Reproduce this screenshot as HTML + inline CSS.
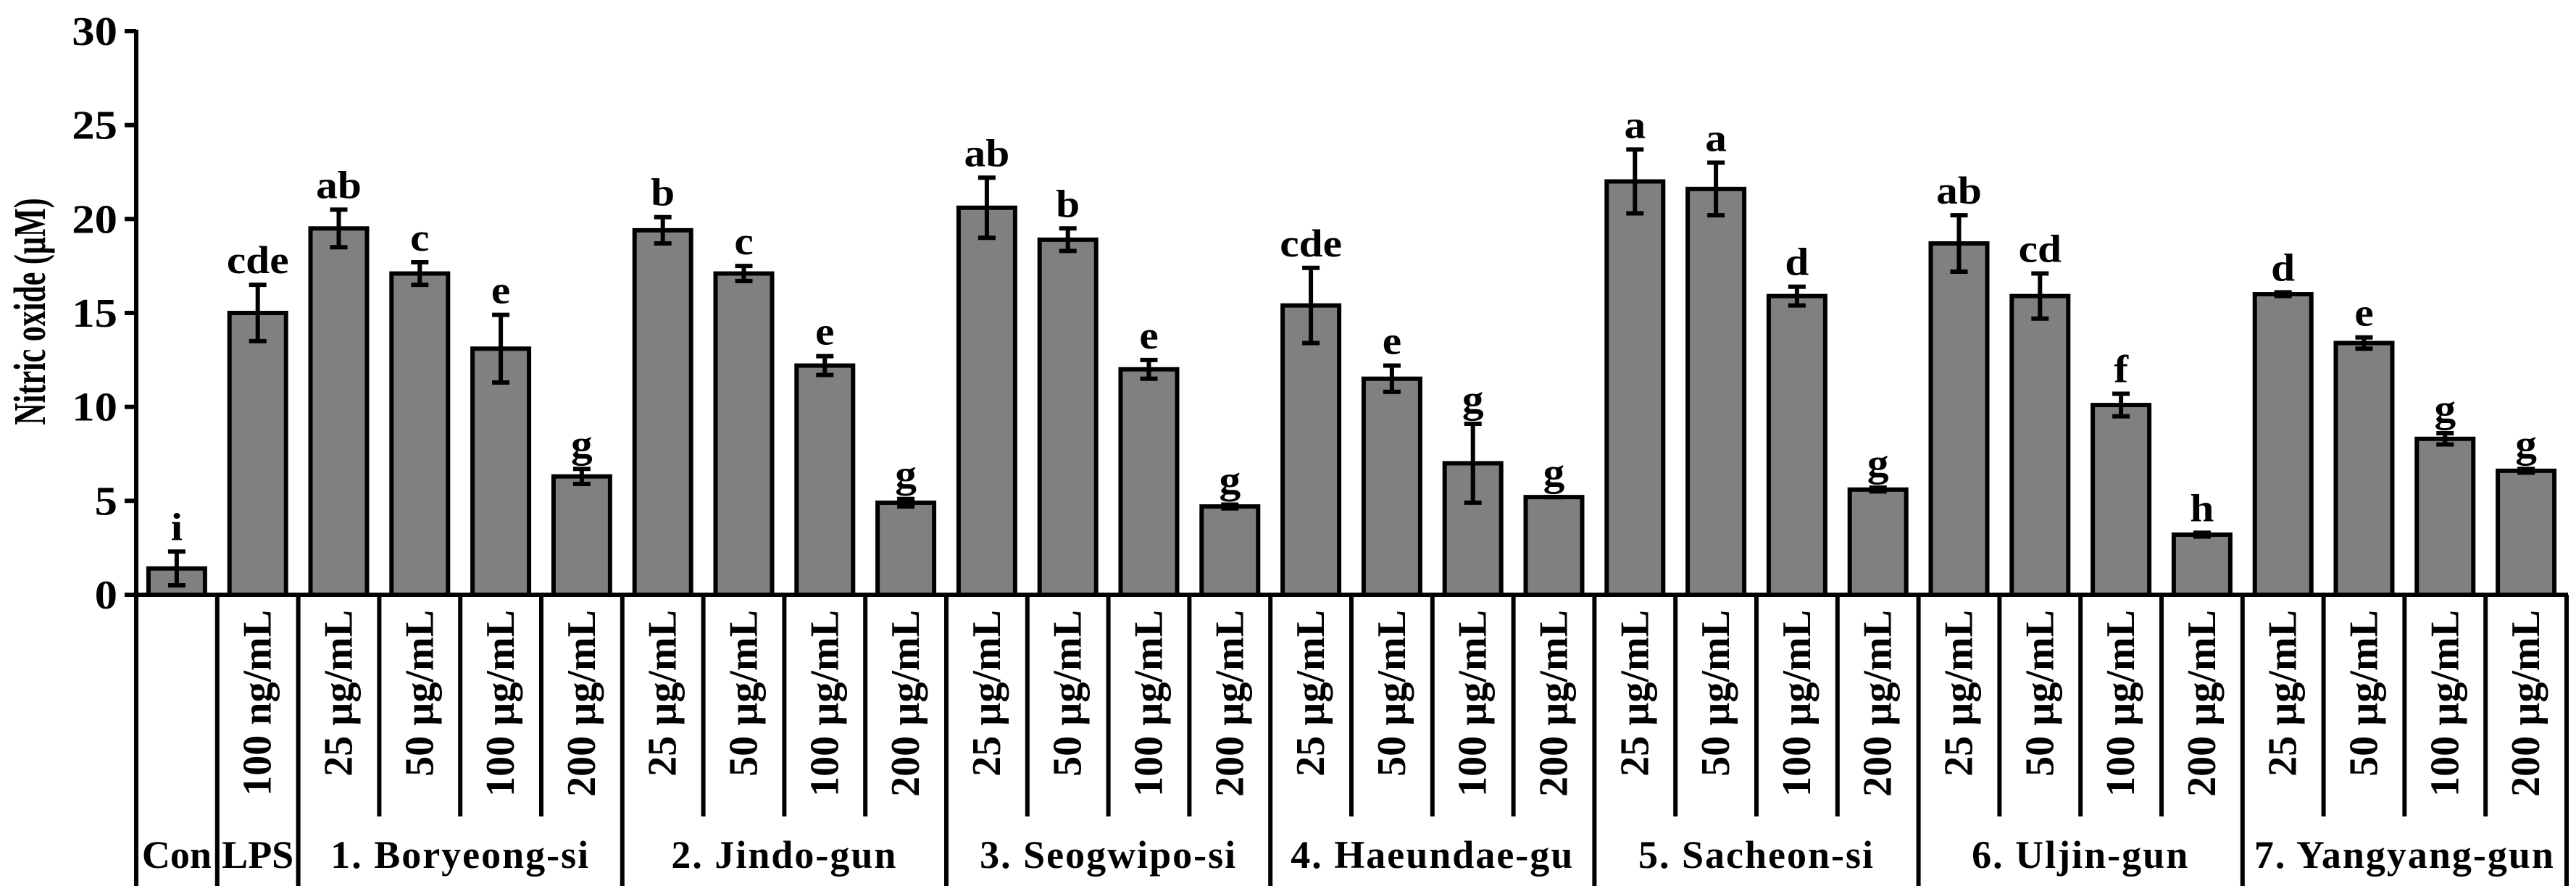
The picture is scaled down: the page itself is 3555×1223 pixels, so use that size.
<!DOCTYPE html>
<html><head><meta charset="utf-8"><style>
html,body{margin:0;padding:0;background:#fff;}
svg{display:block;font-family:"Liberation Serif",serif;font-weight:bold;}
</style></head><body>
<svg id="chart" width="3555" height="1223" viewBox="0 0 3555 1223" xmlns="http://www.w3.org/2000/svg">
<text transform="translate(62,430) rotate(-90) scale(1,1.5)" text-anchor="middle" font-size="42">Nitric oxide (µM)</text>
<g id="axes"></g><g id="bars"></g><g id="xlabels"></g>
</svg>
<script>
const categories = ["Con","100 ng/mL","25 µg/mL","50 µg/mL","100 µg/mL","200 µg/mL","25 µg/mL","50 µg/mL","100 µg/mL","200 µg/mL","25 µg/mL","50 µg/mL","100 µg/mL","200 µg/mL","25 µg/mL","50 µg/mL","100 µg/mL","200 µg/mL","25 µg/mL","50 µg/mL","100 µg/mL","200 µg/mL","25 µg/mL","50 µg/mL","100 µg/mL","200 µg/mL","25 µg/mL","50 µg/mL","100 µg/mL","200 µg/mL"];
const values = [1.4,15.0, 19.5,17.1,13.1,6.3, 19.4,17.1,12.2,4.9, 20.6,18.9,12.0,4.7, 15.4,11.5,7.0,5.2, 22.0,21.6,15.9,5.6, 18.7,15.9,10.1,3.2, 16.0,13.4,8.3,6.6];
const errors = [0.9,1.5, 1.0,0.6,1.8,0.4, 0.7,0.4,0.5,0.2, 1.6,0.6,0.5,0.1, 2.0,0.7,2.1,0.0, 1.7,1.4,0.5,0.1, 1.5,1.2,0.6,0.1, 0.1,0.3,0.3,0.1];
const letters = ["i","cde","ab","c","e","g","b","c","e","g","ab","b","e","g","cde","e","g","g","a","a","d","g","ab","cd","f","h","d","e","g","g"];
const groups = ["Con","LPS","1. Boryeong-si","2. Jindo-gun","3. Seogwipo-si","4. Haeundae-gu","5. Sacheon-si","6. Uljin-gun","7. Yangyang-gun"];
const groupSizes = [1,1,4,4,4,4,4,4,4];
const yTicks = [0,5,10,15,20,25,30];

const NS="http://www.w3.org/2000/svg";
const X0=188, XW=111.8, Y0=821, YTOP=43, YMAX=30;
const y=v=>Y0-(v/YMAX)*(Y0-YTOP);
const xc=i=>X0+XW*(i+0.5);
const xb=i=>X0+XW*i;
function el(tag,attrs,parent,text){const e=document.createElementNS(NS,tag);for(const k in attrs)e.setAttribute(k,attrs[k]);if(text!==undefined)e.textContent=text;parent.appendChild(e);return e;}
const axes=document.getElementById('axes'),bars=document.getElementById('bars'),xl=document.getElementById('xlabels');
const n=categories.length;
let ya=el('line',{x1:X0,y1:YTOP-2,x2:X0,y2:1223,stroke:'#000','stroke-width':6},axes);


yTicks.forEach(t=>{
  let tk=el('line',{x1:X0-16,y1:y(t),x2:X0,y2:y(t),stroke:'#000','stroke-width':6},axes);
  
  
  let tl=el('text',{transform:`translate(${X0-26},${y(t)+19}) scale(1.12,1)`,'text-anchor':'end','font-size':56},axes,String(t));
  
  
});
let xa=el('line',{x1:X0,y1:Y0,x2:xb(n)+2,y2:Y0,stroke:'#000','stroke-width':6},axes);


const groupStart=[];let acc=0;groupSizes.forEach(s=>{groupStart.push(acc);acc+=s;});
const isGroupBoundary=new Set(groupStart.concat([n]));
for(let i=1;i<=n;i++){
  const full=isGroupBoundary.has(i);
  let s=el('line',{x1:xb(i),y1:Y0,x2:xb(i),y2:full?1223:1127,stroke:'#000','stroke-width':6},axes);
  
  
}
for(let i=0;i<n;i++){
  const v=values[i],e=errors[i],cx=xc(i),bw=78;
  let r=el('rect',{x:cx-bw/2,y:y(v),width:bw,height:Y0-y(v),fill:'#808080',stroke:'#000','stroke-width':6},bars);
  
  
  const g=el('g',{},bars);
  
  
  const t=y(v+e),b=y(v-e);
  el('line',{x1:cx,y1:t,x2:cx,y2:b,stroke:'#000','stroke-width':6},g);
  el('line',{x1:cx-12,y1:t,x2:cx+12,y2:t,stroke:'#000','stroke-width':6},g);
  el('line',{x1:cx-12,y1:b,x2:cx+12,y2:b,stroke:'#000','stroke-width':6},g);
  let lt=el('text',{transform:`translate(${cx},${t-16}) scale(1.1,1)`,'text-anchor':'middle','font-size':54},bars,letters[i]);
  
  
  if(i>0){
    let cl=el('text',{transform:`translate(${cx+18},842) rotate(-90)`,'text-anchor':'end','font-size':56},xl,categories[i]);
    
    
  }
}
groups.forEach((gname,gi)=>{
  const mid=(xb(groupStart[gi])+xb(groupStart[gi]+groupSizes[gi]))/2;
  let gl=el('text',{x:mid,y:1198,'text-anchor':'middle','font-size':54,'letter-spacing':gi<2?0:2},xl,gname);
  
  
});
</script>
</body></html>
